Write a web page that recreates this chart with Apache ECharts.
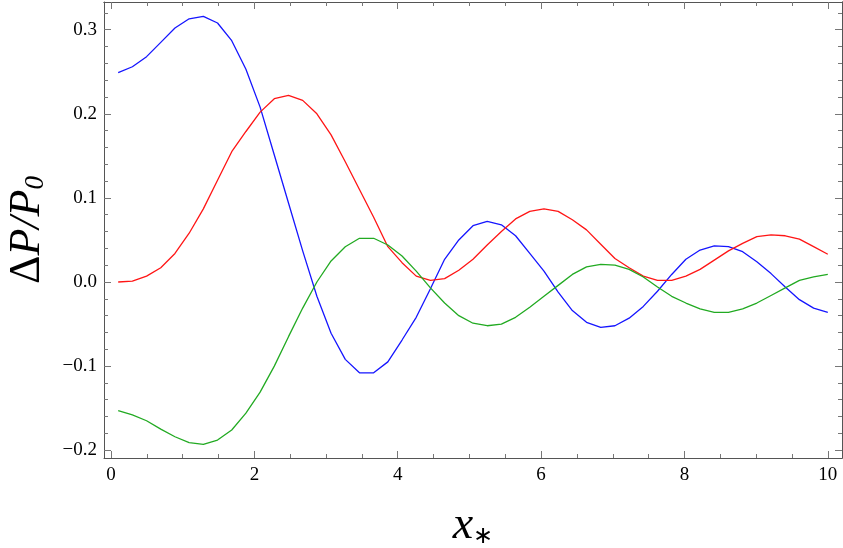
<!DOCTYPE html>
<html>
<head>
<meta charset="utf-8">
<script src="https://cdn.jsdelivr.net/npm/echarts@6/dist/echarts.min.js"></script>
<style>
  html, body { margin: 0; padding: 0; background: #fff; }
  #chart { width: 843px; height: 548px; }
</style>
</head>
<body>
<div id="chart"></div>
<script>
// sample points x_*
const xs = [0.1, 0.298, 0.496, 0.694, 0.892, 1.09, 1.288, 1.486, 1.684, 1.882,
  2.08, 2.278, 2.476, 2.674, 2.872, 3.07, 3.268, 3.466, 3.664, 3.862,
  4.06, 4.258, 4.456, 4.654, 4.852, 5.05, 5.248, 5.446, 5.644, 5.842,
  6.04, 6.238, 6.436, 6.634, 6.832, 7.03, 7.228, 7.426, 7.624, 7.822,
  8.02, 8.218, 8.416, 8.614, 8.812, 9.01, 9.208, 9.406, 9.604, 9.802, 10.0]

const blue = [0.249, 0.256, 0.268, 0.285, 0.302, 0.313, 0.316, 0.308, 0.287, 0.253,
  0.208, 0.151, 0.094, 0.037, -0.017, -0.061, -0.092, -0.108, -0.108, -0.095,
  -0.069, -0.042, -0.008, 0.027, 0.050, 0.067, 0.072, 0.068, 0.055, 0.034,
  0.013, -0.012, -0.034, -0.048, -0.054, -0.052, -0.043, -0.029, -0.011, 0.009,
  0.027, 0.038, 0.043, 0.042, 0.036, 0.024, 0.010, -0.006, -0.021, -0.031, -0.036]

const red = [0.000, 0.001, 0.007, 0.017, 0.034, 0.058, 0.087, 0.121, 0.155, 0.179,
  0.202, 0.218, 0.222, 0.216, 0.200, 0.175, 0.143, 0.110, 0.077, 0.042,
  0.023, 0.007, 0.002, 0.004, 0.014, 0.027, 0.044, 0.060, 0.075, 0.084,
  0.087, 0.084, 0.074, 0.062, 0.045, 0.028, 0.017, 0.007, 0.002, 0.002,
  0.007, 0.015, 0.026, 0.037, 0.046, 0.054, 0.056, 0.055, 0.051, 0.042, 0.033]

const green = [-0.153, -0.158, -0.165, -0.175, -0.184, -0.191, -0.193, -0.188, -0.176, -0.156,
  -0.131, -0.100, -0.065, -0.031, 0.000, 0.025, 0.042, 0.052, 0.052, 0.044,
  0.031, 0.013, -0.007, -0.025, -0.040, -0.049, -0.052, -0.050, -0.042, -0.030,
  -0.017, -0.004, 0.009, 0.018, 0.021, 0.020, 0.015, 0.006, -0.006, -0.017,
  -0.025, -0.032, -0.036, -0.036, -0.032, -0.025, -0.016, -0.007, 0.002, 0.006, 0.009]

// ticks
const xMajor = [0, 2, 4, 6, 8, 10]
const xLabels = ['0', '2', '4', '6', '8', '10']
const xMinor = [0, 0.5, 1, 1.5, 2, 2.5, 3, 3.5, 4, 4.5, 5, 5.5, 6, 6.5, 7, 7.5, 8, 8.5, 9, 9.5, 10]
const yMajor = [-0.2, -0.1, 0, 0.1, 0.2, 0.3]
const yLabels = ['\u22120.2', '\u22120.1', '0.0', '0.1', '0.2', '0.3']
const yMinor = [-0.2, -0.18, -0.16, -0.14, -0.12, -0.1, -0.08, -0.06, -0.04, -0.02, 0,
  0.02, 0.04, 0.06, 0.08, 0.1, 0.12, 0.14, 0.16, 0.18, 0.2, 0.22, 0.24, 0.26, 0.28, 0.3, 0.32]

const X_MIN = -0.098, X_MAX = 10.198
const Y_MIN = -0.2093, Y_MAX = 0.333

const FONT = 'Liberation Serif'
const FRAME = '#555'
const TICK = '#777'

function pick (vals, labels) {
  return function (v) {
    const i = vals.findIndex(t => Math.abs(t - v) < 1e-9)
    return i < 0 ? '' : '{t|' + labels[i] + '}'
  }
}

function makeAxis (kind, position, ticks, len, labels) {
  const ax = {
    type: 'value',
    position: position,
    min: kind === 'x' ? X_MIN : Y_MIN,
    max: kind === 'x' ? X_MAX : Y_MAX,
    axisLine: { show: !!labels || position === 'top' || position === 'right', onZero: false, lineStyle: { color: FRAME, width: 1 } },
    axisTick: { show: true, inside: true, length: len, customValues: ticks, lineStyle: { color: TICK, width: 1 } },
    axisLabel: { show: false },
    splitLine: { show: false }
  }
  if (labels) {
    ax.axisLabel = {
      show: true,
      customValues: ticks,
      formatter: pick(ticks, labels),
      fontFamily: FONT,
      fontSize: 19,
      color: '#000',
      margin: kind === 'x' ? 8 : 7,
      rich: {
        t: { fontFamily: FONT, fontSize: 19, color: '#000' }
      }
    }
  }
  return ax
}

const xAxes = [
  makeAxis('x', 'bottom', xMajor, 7, xLabels),
  makeAxis('x', 'bottom', xMinor, 4),
  makeAxis('x', 'top', xMajor, 7),
  makeAxis('x', 'top', xMinor, 4)
]
xAxes[0].name = '{i|x}{s|\u2217}'
xAxes[0].nameLocation = 'middle'
xAxes[0].nameGap = 47
xAxes[0].nameTextStyle = {
  fontFamily: FONT,
  color: '#000',
  rich: {
    i: { fontFamily: FONT, fontSize: 46, fontStyle: 'italic', color: '#000', lineHeight: 44, verticalAlign: 'bottom' },
    s: { fontFamily: FONT, fontSize: 24, color: '#000', lineHeight: 30, verticalAlign: 'bottom' }
  }
}

const yAxes = [
  makeAxis('y', 'left', yMajor, 7, yLabels),
  makeAxis('y', 'left', yMinor, 4),
  makeAxis('y', 'right', yMajor, 7),
  makeAxis('y', 'right', yMinor, 4)
]
yAxes[0].name = '{d|\u0394}{i|P/P}{s|0}'
yAxes[0].nameLocation = 'middle'
yAxes[0].nameGap = 55
yAxes[0].nameRotate = 90
yAxes[0].nameTextStyle = {
  fontFamily: FONT,
  color: '#000',
  rich: {
    d: { fontFamily: FONT, fontSize: 44, color: '#000', lineHeight: 44, verticalAlign: 'bottom' },
    i: { fontFamily: FONT, fontSize: 44, fontStyle: 'italic', color: '#000', lineHeight: 44, verticalAlign: 'bottom' },
    s: { fontFamily: FONT, fontSize: 27, fontStyle: 'italic', color: '#000', lineHeight: 31, verticalAlign: 'bottom' }
  }
}

function line (name, vals, color) {
  return {
    name: name,
    type: 'line',
    xAxisIndex: 0,
    yAxisIndex: 0,
    showSymbol: false,
    symbol: 'none',
    clip: true,
    lineStyle: { color: color, width: 1.3 },
    data: xs.map((x, i) => [x, vals[i]])
  }
}

const chart = echarts.init(document.getElementById('chart'), null, { renderer: 'canvas' })
chart.setOption({
  animation: false,
  backgroundColor: '#fff',
  textStyle: { fontFamily: FONT },
  grid: { left: 104, right: 1, top: 2, bottom: 90, containLabel: false, outerBoundsMode: 'none' },
  xAxis: xAxes,
  yAxis: yAxes,
  series: [
    line('blue', blue, '#1515ff'),
    line('red', red, '#ff1515'),
    line('green', green, '#22aa22')
  ]
})
</script>
</body>
</html>
